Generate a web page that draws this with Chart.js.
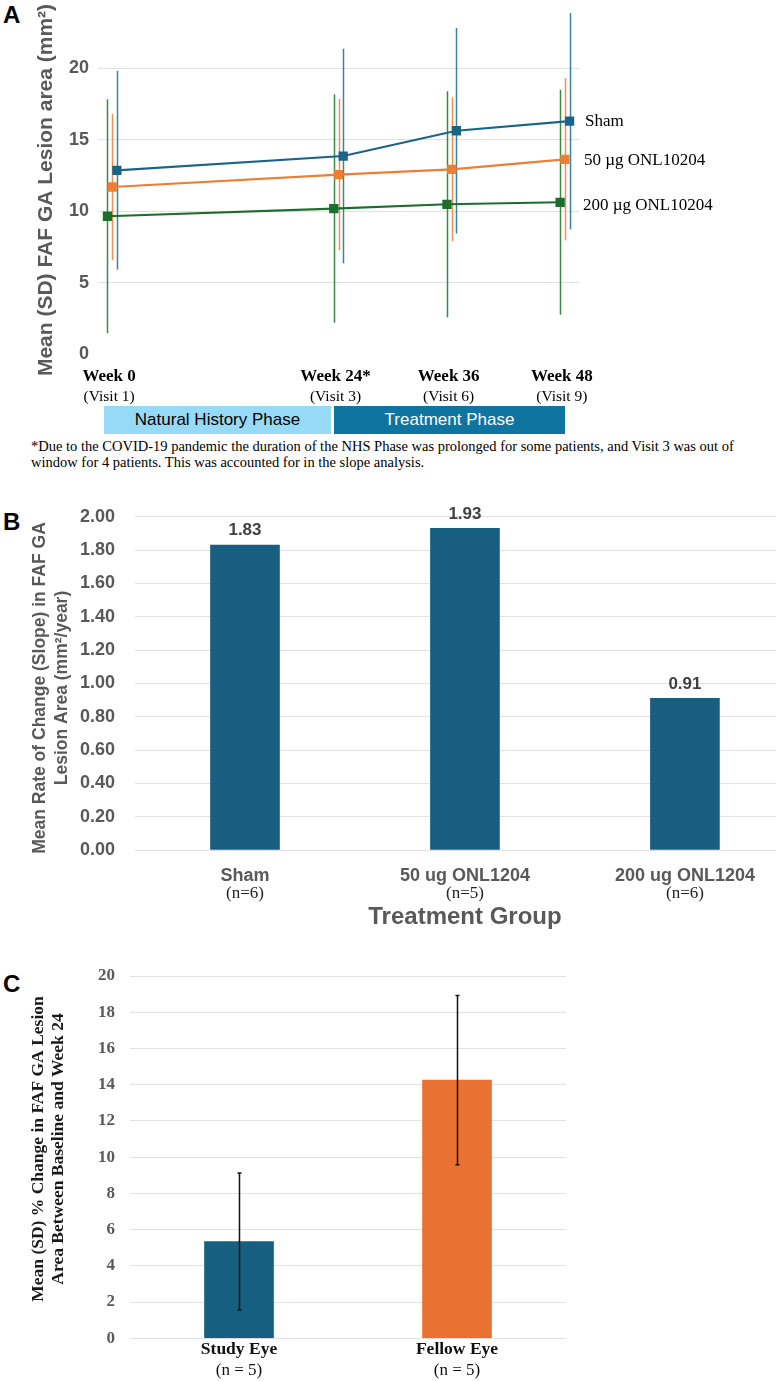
<!DOCTYPE html>
<html>
<head>
<meta charset="utf-8">
<script src="https://cdn.jsdelivr.net/npm/chart.js@4"></script>
<style>
	body { margin: 0; background: #fff; }
	#page { position: relative; width: 776px; height: 1381px; overflow: hidden; }
	canvas { position: absolute; left: 0; }
	.panel-tag { position: absolute; left: 3px; font: bold 24px "Liberation Sans", Arial, sans-serif; line-height: 24px; color: #000; }
	.phase { position: absolute; top: 406px; height: 28px; display: flex; align-items: center; justify-content: center; font: 17px "Liberation Sans", Arial, sans-serif; }
	#note { position: absolute; left: 31px; top: 438px; font: 14.5px "Liberation Serif", "Times New Roman", serif; line-height: 16.3px; white-space: nowrap; color: #000; }
</style>
</head>
<body>
<div id="page">
	<div class="panel-tag" style="top: 3px;">A</div>
	<canvas id="chartA" width="776" height="405" style="top: 0;"></canvas>
	<div class="phase" style="left: 104px; width: 227px; background: #97daf7; color: #000;">Natural History Phase</div>
	<div class="phase" style="left: 334px; width: 231px; background: #0f74a0; color: #fff;">Treatment Phase</div>
	<div id="note">*Due to the COVID-19 pandemic the duration of the NHS Phase was prolonged for some patients, and Visit 3 was out of<br>window for 4 patients. This was accounted for in the slope analysis.</div>

	<div class="panel-tag" style="top: 510px;">B</div>
	<canvas id="chartB" width="776" height="460" style="top: 480px;"></canvas>

	<div class="panel-tag" style="top: 972px;">C</div>
	<canvas id="chartC" width="776" height="441" style="top: 940px;"></canvas>
</div>
<script>
// Panel A - lesion area over time
const weeks = [0, 24, 36, 48];
const weekLabels = ['Week 0', 'Week 24*', 'Week 36', 'Week 48'];
const visitLabels = ['(Visit 1)', '(Visit 3)', '(Visit 6)', '(Visit 9)'];
const lesionTicks = [0, 5, 10, 15, 20];
const seriesNames = ['Sham', '50 \u00b5g ONL10204', '200 \u00b5g ONL10204'];
const shamMean = [12.87, 13.87, 15.64, 16.31];
const shamSD = [6.96, 7.52, 7.20, 7.58];
const dose50Mean = [11.70, 12.57, 12.94, 13.64];
const dose50SD = [5.13, 5.30, 5.04, 5.68];
const dose200Mean = [9.65, 10.19, 10.49, 10.63];
const dose200SD = [8.19, 8.00, 7.92, 7.88];

// Panel B - slope per treatment group
const groups = ['Sham', '50 ug ONL1204', '200 ug ONL1204'];
const groupN = ['(n=6)', '(n=5)', '(n=6)'];
const slopes = [1.83, 1.93, 0.91];

// Panel C - % change study vs fellow eye
const eyes = ['Study Eye', 'Fellow Eye'];
const eyeN = ['(n = 5)', '(n = 5)'];
const pctChange = [5.34, 14.25];
const pctSD = [3.78, 4.67];

const SANS = '"Liberation Sans", Arial, sans-serif';
const SERIF = '"Liberation Serif", "Times New Roman", serif';
const GRAY = '#595959';
const GRID = '#e2e2e2';

function rotatedText(ctx, text, x, y, font, color) {
	ctx.save();
	ctx.translate(x, y);
	ctx.rotate(-Math.PI / 2);
	ctx.font = font;
	ctx.fillStyle = color;
	ctx.textAlign = 'center';
	ctx.textBaseline = 'middle';
	ctx.fillText(text, 0, 0);
	ctx.restore();
}

function centerText(ctx, text, x, y, font, color) {
	ctx.font = font;
	ctx.fillStyle = color;
	ctx.textAlign = 'center';
	ctx.textBaseline = 'middle';
	ctx.fillText(text, x, y);
}

// keep the axis from pushing the plot area down for its label overhang
function fixedWidth(w) {
	return function (s) {
		s.width = w;
		s.paddingTop = 0;
		s.paddingBottom = 0;
	};
}

// ---------- A ----------
const lineSeries = [
	{ name: seriesNames[0], mean: shamMean, sd: shamSD, color: '#1b6489', errColor: '#3a80aa', shift: 0.5 },
	{ name: seriesNames[1], mean: dose50Mean, sd: dose50SD, color: '#ee7d35', errColor: '#f39152', shift: 0 },
	{ name: seriesNames[2], mean: dose200Mean, sd: dose200SD, color: '#1c6e2b', errColor: '#3a8a45', shift: -0.5 }
];

const errorBarsA = {
	id: 'errorBarsA',
	beforeDatasetsDraw(chart) {
		const ctx = chart.ctx;
		const xs = chart.scales.x, ys = chart.scales.y;
		ctx.save();
		ctx.lineWidth = 1.5;
		lineSeries.forEach(function (s) {
			ctx.strokeStyle = s.errColor;
			weeks.forEach(function (w, i) {
				const px = Math.round(xs.getPixelForValue(w + s.shift)) + 0.5;
				ctx.beginPath();
				ctx.moveTo(px, ys.getPixelForValue(s.mean[i] + s.sd[i]));
				ctx.lineTo(px, ys.getPixelForValue(s.mean[i] - s.sd[i]));
				ctx.stroke();
			});
		});
		ctx.restore();
	},
	afterDraw(chart) {
		const ctx = chart.ctx;
		const xs = chart.scales.x, ys = chart.scales.y;
		ctx.save();
		weeks.forEach(function (w, i) {
			const px = xs.getPixelForValue(w) - 3;
			centerText(ctx, weekLabels[i], px, 377, 'bold 17px ' + SERIF, '#000');
			centerText(ctx, visitLabels[i], px, 397, '15.5px ' + SERIF, '#000');
		});
		lineSeries.forEach(function (s, k) {
			const last = s.mean[s.mean.length - 1];
			ctx.font = '17px ' + SERIF;
			ctx.fillStyle = '#000';
			ctx.textAlign = 'left';
			ctx.textBaseline = 'middle';
			ctx.fillText(s.name, chart.chartArea.right + 6 - k, ys.getPixelForValue(last) + k * 1.5);
		});
		rotatedText(ctx, 'Mean (SD) FAF GA Lesion area (mm\u00b2)', 46, 190, 'bold 21px ' + SANS, GRAY);
		ctx.restore();
	}
};

new Chart(document.getElementById('chartA'), {
	type: 'line',
	data: {
		datasets: lineSeries.map(function (s) {
			return {
				label: s.name,
				data: weeks.map(function (w, i) { return { x: w + s.shift, y: s.mean[i] }; }),
				borderColor: s.color,
				backgroundColor: s.color,
				borderWidth: 2.2,
				pointStyle: 'rect',
				pointRadius: 5,
				tension: 0
			};
		})
	},
	options: {
		responsive: false,
		animation: false,
		devicePixelRatio: 1,
		layout: { autoPadding: false, padding: { left: 0, right: 197, top: 0, bottom: 0 } },
		plugins: { legend: { display: false }, tooltip: { enabled: false } },
		scales: {
			x: {
				type: 'linear',
				min: -1.5,
				max: 49.5,
				ticks: { display: false },
				grid: { display: false },
				border: { display: false },
				afterFit: function (s) { s.height = 51; }
			},
			y: {
				min: 0,
				max: 24.8,
				bounds: 'data',
				afterBuildTicks: function (s) { s.ticks = lesionTicks.map(function (v) { return { value: v }; }); },
				ticks: { padding: 9, color: GRAY, font: { family: SANS, weight: 'bold', size: 18 } },
				grid: {
					drawTicks: false,
					color: function (c) { return c.tick && c.tick.value === 0 ? 'rgba(0,0,0,0)' : GRID; }
				},
				border: { display: false },
				afterFit: fixedWidth(98)
			}
		}
	},
	plugins: [errorBarsA]
});

// ---------- B ----------
const labelsB = {
	id: 'labelsB',
	afterDatasetsDraw(chart) {
		const ctx = chart.ctx;
		const xs = chart.scales.x, ys = chart.scales.y;
		ctx.save();
		slopes.forEach(function (v, i) {
			const px = xs.getPixelForValue(i);
			centerText(ctx, v.toFixed(2), px, ys.getPixelForValue(v) - 14.5, 'bold 17px ' + SANS, '#404040');
			centerText(ctx, groups[i], px, 396, 'bold 18px ' + SANS, GRAY);
			centerText(ctx, groupN[i], px, 413.5, '17px ' + SERIF, '#222');
		});
		centerText(ctx, 'Treatment Group', xs.getPixelForValue(1), 437, 'bold 24px ' + SANS, GRAY);
		rotatedText(ctx, 'Mean Rate of Change (Slope) in FAF GA', 40, 208, 'bold 17.5px ' + SANS, GRAY);
		rotatedText(ctx, 'Lesion Area (mm\u00b2/year)', 62, 208, 'bold 17.5px ' + SANS, GRAY);
		ctx.restore();
	}
};

new Chart(document.getElementById('chartB'), {
	type: 'bar',
	data: {
		datasets: [{
			data: slopes.map(function (v, i) { return { x: i, y: v }; }),
			backgroundColor: '#185e80',
			barThickness: 69
		}]
	},
	options: {
		responsive: false,
		animation: false,
		devicePixelRatio: 1,
		layout: { autoPadding: false, padding: { left: 0, right: 0, top: 36.7, bottom: 0 } },
		plugins: { legend: { display: false }, tooltip: { enabled: false } },
		scales: {
			x: {
				type: 'linear',
				offset: false,
				min: -0.5,
				max: 2.414,
				ticks: { display: false },
				grid: { display: false, offset: false },
				border: { display: false },
				afterFit: function (s) { s.height = 90; }
			},
			y: {
				min: 0,
				max: 2,
				ticks: {
					stepSize: 0.2,
					padding: 20,
					color: GRAY,
					font: { family: SANS, weight: 'bold', size: 18 },
					callback: function (v) { return Number(v).toFixed(2); }
				},
				grid: { drawTicks: false, color: GRID },
				border: { display: false },
				afterFit: fixedWidth(135)
			}
		}
	},
	plugins: [labelsB]
});

// ---------- C ----------
const labelsC = {
	id: 'labelsC',
	afterDatasetsDraw(chart) {
		const ctx = chart.ctx;
		const xs = chart.scales.x, ys = chart.scales.y;
		ctx.save();
		ctx.strokeStyle = '#111';
		ctx.lineWidth = 1.5;
		pctChange.forEach(function (v, i) {
			const px = Math.round(xs.getPixelForValue(i)) + 0.5;
			const top = ys.getPixelForValue(v + pctSD[i]);
			const bot = ys.getPixelForValue(v - pctSD[i]);
			ctx.beginPath();
			ctx.moveTo(px, top);
			ctx.lineTo(px, bot);
			ctx.moveTo(px - 2, top);
			ctx.lineTo(px + 2, top);
			ctx.moveTo(px - 2, bot);
			ctx.lineTo(px + 2, bot);
			ctx.stroke();
			centerText(ctx, eyes[i], xs.getPixelForValue(i), 409.5, 'bold 17.5px ' + SERIF, '#111');
			centerText(ctx, eyeN[i], xs.getPixelForValue(i), 430.5, '17px ' + SERIF, '#111');
		});
		rotatedText(ctx, 'Mean (SD) % Change in FAF GA Lesion', 38, 209, 'bold 17.5px ' + SERIF, '#1a1a1a');
		rotatedText(ctx, 'Area Between Baseline and Week 24', 58, 209, 'bold 17.5px ' + SERIF, '#1a1a1a');
		ctx.restore();
	}
};

new Chart(document.getElementById('chartC'), {
	type: 'bar',
	data: {
		labels: eyes,
		datasets: [{
			data: pctChange,
			backgroundColor: ['#175f80', '#e97132'],
			barThickness: 69
		}]
	},
	options: {
		responsive: false,
		animation: false,
		devicePixelRatio: 1,
		layout: { autoPadding: false, padding: { left: 0, right: 210, top: 36, bottom: 0 } },
		plugins: { legend: { display: false }, tooltip: { enabled: false } },
		scales: {
			x: {
				offset: true,
				ticks: { display: false },
				grid: { display: false },
				border: { display: false },
				afterFit: function (s) { s.height = 42.7; }
			},
			y: {
				min: 0,
				max: 20,
				ticks: { stepSize: 2, padding: 15, color: GRAY, font: { family: SERIF, weight: 'bold', size: 17 } },
				grid: { drawTicks: false, color: GRID },
				border: { display: false },
				afterFit: fixedWidth(130)
			}
		}
	},
	plugins: [labelsC]
});
</script>
</body>
</html>
